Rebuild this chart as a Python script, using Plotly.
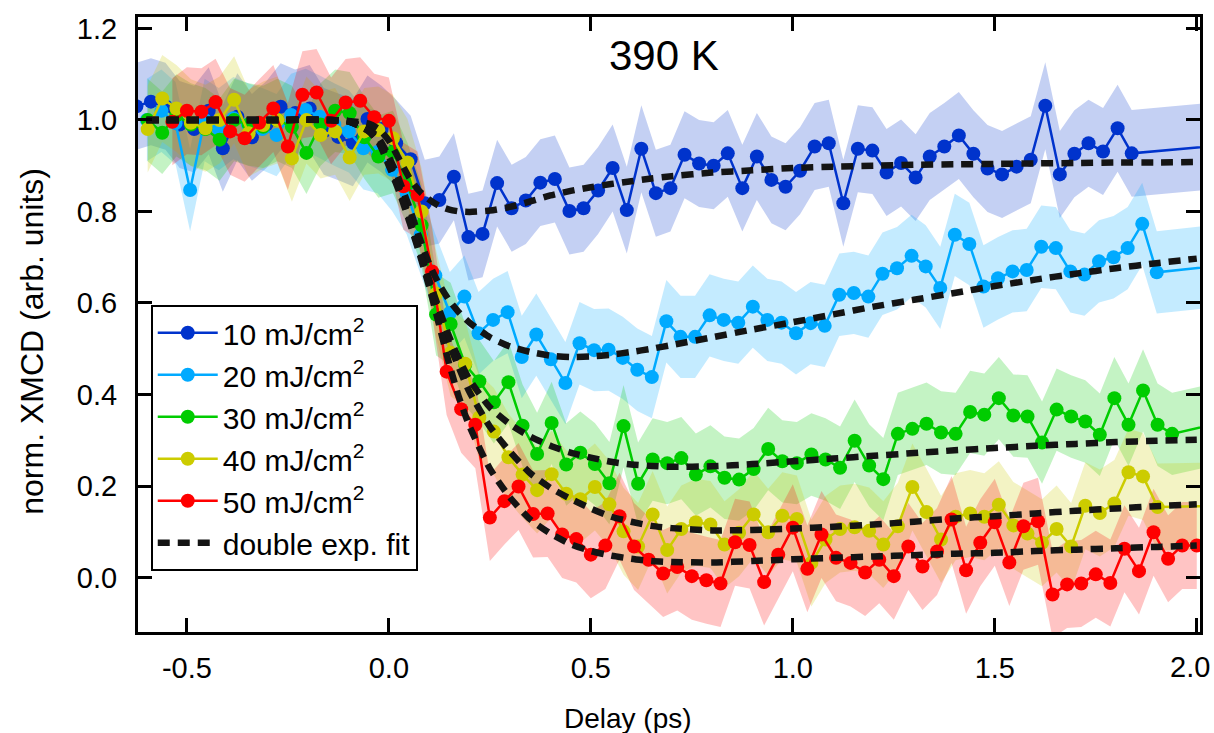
import plotly.graph_objects as go

# Pump-probe delay grid (ps), step 1/28 ps
delay_ps = [
    -0.643, -0.607, -0.571, -0.536, -0.500, -0.464, -0.429, -0.393, -0.357, -0.321,
    -0.286, -0.250, -0.214, -0.179, -0.143, -0.107, -0.071, -0.036, 0.000, 0.036,
    0.071, 0.107, 0.143, 0.179, 0.214, 0.250, 0.286, 0.321, 0.357, 0.393,
    0.429, 0.464, 0.500, 0.536, 0.571, 0.607, 0.643, 0.679, 0.714, 0.750,
    0.786, 0.821, 0.857, 0.893, 0.929, 0.964, 1.000, 1.036, 1.071, 1.107,
    1.143, 1.179, 1.214, 1.250, 1.286, 1.321, 1.357, 1.393, 1.429, 1.464,
    1.500, 1.536, 1.571, 1.607, 1.643, 1.679, 1.714, 1.750, 1.786, 1.821,
    1.857, 1.893, 1.929, 1.964, 2.000,
]

fluence_labels = ["10 mJ/cm<sup>2</sup>", "20 mJ/cm<sup>2</sup>", "30 mJ/cm<sup>2</sup>",
                  "40 mJ/cm<sup>2</sup>", "50 mJ/cm<sup>2</sup>"]
colors = ["#0033cc", "#00aaff", "#00cc00", "#cccc00", "#ff0000"]
band_colors = ["rgba(0,51,204,0.23)", "rgba(0,170,255,0.23)", "rgba(0,204,0,0.23)",
               "rgba(204,204,0,0.23)", "rgba(255,0,0,0.23)"]

# time-zero shift of each scan (ps) and index of its first delay in delay_ps
t0_shift = [0.018, 0.008, 0.010, 0.010, 0.0]
first_index = [0, 1, 1, 1, 3]

# uncertainty (half width of the shaded band)
xmcd_err = [0.095, 0.09, 0.09, 0.095, 0.095]

# last measured point of each scan, beyond the plotted window (delay, XMCD)
tail_delay = [2.25, 2.25, 2.25, 2.25, None]
tail_xmcd = [0.96, 0.70, 0.376, 0.16, None]

xmcd_10 = [
    1.030, 1.040, 1.030, 0.990, 0.980, 1.020, 0.938, 1.007, 0.962, 0.990,
    1.029, 1.015, 1.025, 0.975, 0.963, 0.950, 1.002, 0.980, 0.949, 0.914,
    0.818, 0.825, 0.876, 0.744, 0.751, 0.862, 0.807, 0.824, 0.863, 0.871,
    0.801, 0.807, 0.846, 0.895, 0.803, 0.937, 0.840, 0.851, 0.924, 0.905,
    0.900, 0.927, 0.851, 0.920, 0.869, 0.854, 0.889, 0.942, 0.949, 0.818,
    0.937, 0.933, 0.885, 0.906, 0.874, 0.920, 0.942, 0.966, 0.926, 0.894,
    0.881, 0.898, 0.913, 1.031, 0.881, 0.926, 0.949, 0.931, 0.982, 0.927,
]
xmcd_20 = [
    1.000, 1.020, 0.993, 0.847, 1.000, 0.980, 1.004, 0.990, 0.980, 0.967,
    1.011, 1.022, 1.007, 0.990, 0.975, 0.938, 0.930, 0.891, 0.840, 0.750,
    0.660, 0.578, 0.614, 0.534, 0.563, 0.580, 0.482, 0.531, 0.477, 0.425,
    0.512, 0.497, 0.498, 0.480, 0.454, 0.438, 0.560, 0.526, 0.526, 0.573,
    0.563, 0.557, 0.592, 0.563, 0.557, 0.534, 0.556, 0.550, 0.618, 0.622,
    0.614, 0.664, 0.676, 0.703, 0.680, 0.633, 0.749, 0.729, 0.636, 0.654,
    0.669, 0.672, 0.723, 0.720, 0.669, 0.662, 0.691, 0.700, 0.720, 0.773,
    0.667,
]
xmcd_30 = [
    1.000, 0.972, 1.010, 0.990, 0.980, 0.957, 1.000, 0.990, 0.985, 1.000,
    0.985, 0.928, 0.990, 1.020, 1.015, 0.962, 0.920, 0.930, 0.860, 0.770,
    0.575, 0.554, 0.465, 0.429, 0.383, 0.427, 0.332, 0.270, 0.338, 0.247,
    0.273, 0.248, 0.206, 0.331, 0.205, 0.258, 0.250, 0.261, 0.225, 0.243,
    0.218, 0.214, 0.237, 0.281, 0.254, 0.250, 0.269, 0.258, 0.240, 0.299,
    0.245, 0.215, 0.314, 0.325, 0.336, 0.317, 0.314, 0.362, 0.356, 0.392,
    0.354, 0.352, 0.295, 0.367, 0.352, 0.341, 0.312, 0.392, 0.334, 0.409,
    0.334, 0.314,
]
xmcd_40 = [
    0.980, 1.047, 1.025, 0.994, 0.982, 1.000, 1.044, 0.971, 0.989, 1.000,
    0.916, 1.000, 0.967, 0.975, 0.918, 0.975, 0.978, 0.960, 0.907, 0.800,
    0.620, 0.491, 0.467, 0.350, 0.319, 0.263, 0.225, 0.191, 0.226, 0.183,
    0.171, 0.198, 0.160, 0.101, 0.068, 0.138, 0.060, 0.106, 0.121, 0.116,
    0.072, 0.098, 0.138, 0.099, 0.135, 0.128, 0.032, 0.083, 0.106, 0.110,
    0.102, 0.072, 0.112, 0.198, 0.143, 0.083, 0.133, 0.140, 0.133, 0.159,
    0.114, 0.096, 0.076, 0.106, 0.068, 0.157, 0.141, 0.162, 0.230, 0.221,
    0.154,
]
xmcd_50 = [
    0.996, 1.020, 1.018, 1.039, 0.975, 0.960, 0.994, 1.025, 0.942, 1.055,
    1.060, 0.998, 1.038, 1.042, 1.006, 0.998, 0.855, 0.836, 0.669, 0.450,
    0.368, 0.334, 0.131, 0.167, 0.199, 0.139, 0.140, 0.094, 0.084, 0.050,
    0.070, 0.134, 0.068, 0.039, 0.009, 0.023, 0.003, -0.006, -0.013, 0.077,
    0.071, -0.010, 0.050, 0.109, 0.019, 0.094, 0.043, 0.032, 0.011, 0.039,
    0.003, 0.068, 0.024, 0.057, 0.127, 0.016, 0.076, 0.121, 0.033, 0.112,
    0.123, -0.037, -0.015, -0.013, 0.007, -0.012, 0.063, 0.014, 0.099, 0.041,
    0.070, 0.070,
]
xmcd = [xmcd_10, xmcd_20, xmcd_30, xmcd_40, xmcd_50]

# Double-exponential fit curves, sampled on fit_delay
fit_delay = [
    -0.60, -0.30, -0.15, -0.10, -0.05, -0.025, 0.0, 0.025, 0.05, 0.075,
    0.10, 0.125, 0.15, 0.175, 0.20, 0.25, 0.30, 0.35, 0.40, 0.45,
    0.50, 0.55, 0.60, 0.65, 0.70, 0.80, 0.90, 1.00, 1.10, 1.20,
    1.30, 1.40, 1.50, 1.60, 1.70, 1.80, 1.90, 2.00,
]
fit_10 = [
    1.000, 1.000, 1.000, 0.998, 0.992, 0.980, 0.955, 0.915, 0.875, 0.845,
    0.826, 0.812, 0.804, 0.800, 0.799, 0.802, 0.810, 0.822, 0.835, 0.845,
    0.853, 0.860, 0.866, 0.872, 0.877, 0.885, 0.890, 0.895, 0.898, 0.900,
    0.902, 0.903, 0.904, 0.905, 0.906, 0.907, 0.907, 0.908,
]
fit_20 = [
    1.000, 1.000, 1.000, 0.997, 0.980, 0.960, 0.920, 0.870, 0.810, 0.745,
    0.685, 0.640, 0.605, 0.578, 0.557, 0.525, 0.505, 0.493, 0.485, 0.482,
    0.483, 0.487, 0.493, 0.500, 0.508, 0.525, 0.542, 0.558, 0.575, 0.592,
    0.607, 0.622, 0.637, 0.651, 0.664, 0.676, 0.687, 0.697,
]
fit_30 = [
    1.000, 1.000, 1.000, 0.997, 0.977, 0.955, 0.910, 0.855, 0.790, 0.720,
    0.650, 0.585, 0.525, 0.475, 0.432, 0.372, 0.335, 0.308, 0.288, 0.273,
    0.262, 0.253, 0.247, 0.244, 0.242, 0.243, 0.248, 0.254, 0.260, 0.266,
    0.272, 0.278, 0.283, 0.288, 0.292, 0.296, 0.299, 0.301,
]
fit_40 = [
    1.000, 1.000, 1.000, 0.997, 0.976, 0.952, 0.905, 0.850, 0.785, 0.715,
    0.645, 0.575, 0.510, 0.455, 0.405, 0.330, 0.275, 0.228, 0.196, 0.172,
    0.151, 0.133, 0.122, 0.113, 0.108, 0.103, 0.104, 0.107, 0.111, 0.116,
    0.122, 0.129, 0.134, 0.140, 0.146, 0.151, 0.156, 0.160,
]
fit_50 = [
    1.000, 1.000, 1.000, 0.997, 0.975, 0.950, 0.900, 0.845, 0.780, 0.710,
    0.635, 0.550, 0.465, 0.390, 0.330, 0.238, 0.175, 0.127, 0.096, 0.073,
    0.058, 0.048, 0.041, 0.036, 0.034, 0.033, 0.036, 0.040, 0.043, 0.046,
    0.049, 0.052, 0.054, 0.058, 0.061, 0.064, 0.067, 0.070,
]
fits = [fit_10, fit_20, fit_30, fit_40, fit_50]

# the last x label sits at the page edge, so it is drawn flush-right as an annotation
x_ticks = [-0.5, 0.0, 0.5, 1.0, 1.5, 2.0]
x_ticktext = ["-0.5", "0.0", "0.5", "1.0", "1.5", ""]
x_edge_label = "2.0"
y_ticks = [0.0, 0.2, 0.4, 0.6, 0.8, 1.0, 1.2]
y_ticktext = ["0.0", "0.2", "0.4", "0.6", "0.8", "1.0", "1.2"]

FONT = "Liberation Sans, Arial, Helvetica, sans-serif"


def scan_xy(i):
    start = first_index[i]
    ys = list(xmcd[i])
    xs = [delay_ps[start + n] + t0_shift[i] for n in range(len(ys))]
    if tail_delay[i] is not None:
        xs.append(tail_delay[i])
        ys.append(tail_xmcd[i])
    return xs, ys


fig = go.Figure()

# shaded uncertainty bands
for i in range(5):
    xs, ys = scan_xy(i)
    upper = [v + xmcd_err[i] for v in ys]
    lower = [v - xmcd_err[i] for v in ys]
    fig.add_trace(go.Scatter(
        x=xs + xs[::-1], y=upper + lower[::-1],
        fill="toself", fillcolor=band_colors[i],
        line=dict(width=0), mode="lines",
        hoverinfo="skip", showlegend=False,
    ))

# measured XMCD traces
for i in range(5):
    xs, ys = scan_xy(i)
    fig.add_trace(go.Scatter(
        x=xs, y=ys, mode="lines+markers", name=fluence_labels[i],
        line=dict(color=colors[i], width=2.5),
        marker=dict(color=colors[i], size=14, line=dict(width=0)),
    ))

# double-exponential fits
for i in range(5):
    fig.add_trace(go.Scatter(
        x=fit_delay, y=fits[i], mode="lines",
        name="double exp. fit", showlegend=(i == 0),
        line=dict(color="#141414", width=6.5, dash="12px,8px",
                  shape="spline", smoothing=0.6),
    ))

axis_common = dict(
    showline=True, linewidth=3, linecolor="black", mirror="allticks",
    ticks="inside", ticklen=14, tickwidth=3, tickcolor="black",
    showgrid=False, zeroline=False,
    automargin=False,
    tickfont=dict(family=FONT, size=29, color="black"),
)

fig.update_layout(
    width=1214, height=733,
    margin=dict(l=138, r=14, t=17, b=101, autoexpand=False),
    plot_bgcolor="white", paper_bgcolor="white",
    font=dict(family=FONT, size=28, color="black"),
    xaxis=dict(
        range=[-0.621, 2.008], tickvals=x_ticks, ticktext=x_ticktext,
        ticklabelstandoff=8,
        **axis_common,
    ),
    yaxis=dict(
        range=[-0.119, 1.225], tickvals=y_ticks, ticktext=y_ticktext,
        ticklabelstandoff=12,
        **axis_common,
    ),
    legend=dict(
        x=0.012, y=0.532, xanchor="left", yanchor="top",
        bgcolor="white", bordercolor="black", borderwidth=2,
        font=dict(family=FONT, size=30, color="black"),
        tracegroupgap=0, itemwidth=60,
    ),
    annotations=[
        dict(text="390 K", x=0.495, y=0.937, xref="paper", yref="paper",
             xanchor="center", yanchor="middle", showarrow=False,
             font=dict(family=FONT, size=42, color="black")),
        dict(text=x_edge_label, x=1.0113, y=-0.0569, xref="paper", yref="paper",
             xanchor="right", yanchor="middle", showarrow=False,
             font=dict(family=FONT, size=29, color="black")),
        dict(text="Delay (ps)", x=0.461, y=-0.14, xref="paper", yref="paper",
             xanchor="center", yanchor="middle", showarrow=False,
             font=dict(family=FONT, size=28, color="black")),
        dict(text="norm. XMCD (arb. units)", x=-0.0998, y=0.472,
             xref="paper", yref="paper", textangle=-90,
             xanchor="center", yanchor="middle", showarrow=False,
             font=dict(family=FONT, size=32, color="black")),
    ],
)

fig.write_html("out.html")
